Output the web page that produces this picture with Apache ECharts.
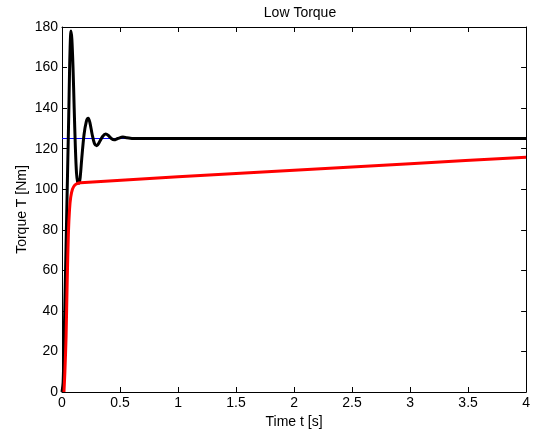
<!DOCTYPE html>
<html>
<head>
<meta charset="utf-8">
<script src="https://cdn.jsdelivr.net/npm/echarts@6/dist/echarts.min.js"></script>
<style>html,body{margin:0;padding:0;background:#fff}#c{width:533px;height:434px}</style>
</head>
<body>
<div id="c"></div>
<script>
var titleText = 'Low Torque';
var xName = 'Time t [s]';
var yName = 'Torque T [Nm]';

var refT = [0, 4];
var refV = [125, 125];

var blackT = [0, 0.01, 0.02, 0.03, 0.04, 0.05, 0.058, 0.065, 0.07, 0.077, 0.085, 0.095, 0.105, 0.115, 0.125, 0.135, 0.147, 0.157, 0.17, 0.19, 0.21, 0.226, 0.24, 0.26, 0.28, 0.30, 0.32, 0.35, 0.376, 0.40, 0.425, 0.45, 0.48, 0.525, 0.56, 0.62, 4];
var blackV = [0, 5, 30, 58, 86, 114, 136, 158, 170, 178, 174, 160, 140, 121, 108, 103.5, 103, 106, 115, 127, 133.5, 135, 133, 127, 122.5, 121.5, 123, 126, 127.2, 126.5, 125, 124.4, 125, 125.7, 125.4, 125, 125];

var redT = [0.017, 0.025, 0.035, 0.045, 0.055, 0.065, 0.075, 0.09, 0.11, 0.13, 0.16, 1, 2, 3, 4];
var redV = [0, 10, 27, 55, 78, 90, 96, 100, 102, 102.8, 103.2, 106.1, 109.4, 112.6, 115.8];

function pairs(t, v) { return t.map(function (x, i) { return [x, v[i]]; }); }

var font = 'Liberation Sans, Arial, Helvetica, sans-serif';
var fs = 14;
var chart = echarts.init(document.getElementById('c'), null, {renderer: 'canvas'});

function xAx(pos, show) {
  return {
    type: 'value', position: pos, min: 0, max: 4, interval: 0.5,
    axisLine: {show: true, onZero: false, lineStyle: {color: '#000', width: 1}},
    axisTick: {show: true, inside: true, length: 5, lineStyle: {color: '#000'}},
    axisLabel: {show: show, color: '#000', fontSize: fs, fontFamily: font, margin: 4},
    splitLine: {show: false},
    name: show ? xName : '', nameLocation: 'middle', nameGap: 23, nameMoveOverlap: false,
    nameTextStyle: {color: '#000', fontSize: fs, fontFamily: font}
  };
}
function yAx(pos, show) {
  return {
    type: 'value', position: pos, min: 0, max: 180, interval: 20,
    axisLine: {show: true, onZero: false, lineStyle: {color: '#000', width: 1}},
    axisTick: {show: true, inside: true, length: 5, lineStyle: {color: '#000'}},
    axisLabel: {show: show, color: '#000', fontSize: fs, fontFamily: font, margin: 4},
    splitLine: {show: false},
    name: show ? yName : '', nameLocation: 'middle', nameGap: 33, nameMoveOverlap: false,
    nameTextStyle: {color: '#000', fontSize: fs, fontFamily: font}
  };
}

chart.setOption({
  animation: false,
  backgroundColor: '#fff',
  title: {text: titleText, left: 295, textAlign: 'center', top: 1,
    textStyle: {color: '#000', fontSize: fs, fontWeight: 'normal', fontFamily: font}},
  grid: {left: 62, right: 6, top: 27, bottom: 41, containLabel: false},
  xAxis: [xAx('bottom', true), xAx('top', false)],
  yAxis: [yAx('left', true), yAx('right', false)],
  series: [
    {type: 'line', data: pairs(refT, refV), showSymbol: false, lineStyle: {color: '#0000ff', width: 1}, z: 1},
    {type: 'line', data: pairs(blackT, blackV), showSymbol: false, smooth: 0.3, lineStyle: {color: '#000', width: 3}, z: 2},
    {type: 'line', data: pairs(redT, redV), showSymbol: false, smooth: 0.2, lineStyle: {color: '#ff0000', width: 3}, z: 3}
  ]
});
</script>
</body>
</html>
